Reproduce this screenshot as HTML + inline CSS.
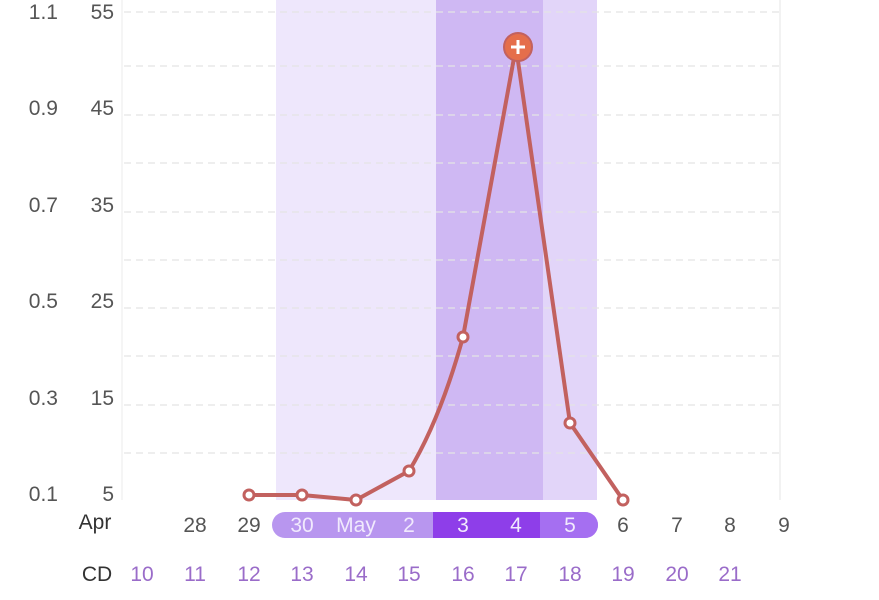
<!DOCTYPE html><html><head><style>body{margin:0;background:#fff}svg{display:block}text{font-family:"Liberation Sans",sans-serif}</style></head><body>
<svg width="879" height="600" viewBox="0 0 879 600">
<rect x="276" y="0" width="160" height="500" fill="#eee7fc"/>
<rect x="436" y="0" width="107" height="500" fill="#cfb8f3"/>
<rect x="543" y="0" width="54" height="500" fill="#e2d5f9"/>
<g stroke="#e4e4e4" stroke-width="1.2" stroke-dasharray="7,5">
<line x1="124" y1="12" x2="780" y2="12"/><line x1="124" y1="66" x2="780" y2="66"/><line x1="124" y1="115" x2="780" y2="115"/><line x1="124" y1="163" x2="780" y2="163"/><line x1="124" y1="212" x2="780" y2="212"/><line x1="124" y1="260" x2="780" y2="260"/><line x1="124" y1="308" x2="780" y2="308"/><line x1="124" y1="356" x2="780" y2="356"/><line x1="124" y1="405" x2="780" y2="405"/><line x1="124" y1="453" x2="780" y2="453"/>
</g>
<line x1="122" y1="0" x2="122" y2="500" stroke="#f2f2f2" stroke-width="1.5"/>
<line x1="780" y1="0" x2="780" y2="500" stroke="#eee" stroke-width="1.5"/>
<g font-size="21" fill="#555" text-anchor="end">
<text x="58" y="19">1.1</text><text x="58" y="115">0.9</text><text x="58" y="212">0.7</text><text x="58" y="308">0.5</text><text x="58" y="405">0.3</text><text x="58" y="501">0.1</text>
<text x="114" y="19">55</text><text x="114" y="115">45</text><text x="114" y="212">35</text><text x="114" y="308">25</text><text x="114" y="405">15</text><text x="114" y="501">5</text>
</g>
<rect x="272" y="512" width="326" height="26" rx="13" fill="#b896ef"/>
<rect x="433" y="512" width="107" height="26" fill="#8e3ee9"/>
<path d="M540 512 H585 A13 13 0 0 1 585 538 H540 Z" fill="#a56ff1"/>
<g font-size="21" text-anchor="middle">
<text x="95" y="529" fill="#333">Apr</text>
<g fill="#555"><text x="195" y="532">28</text><text x="249" y="532">29</text><text x="623" y="532">6</text><text x="677" y="532">7</text><text x="730" y="532">8</text><text x="784" y="532">9</text></g>
<g fill="#f1eafd"><text x="302" y="532">30</text><text x="356" y="532">May</text><text x="409" y="532">2</text><text x="463" y="532">3</text><text x="516" y="532">4</text><text x="570" y="532">5</text></g>
<text x="97" y="581" fill="#333">CD</text>
<g fill="#9a6cc9"><text x="142" y="581">10</text><text x="195" y="581">11</text><text x="249" y="581">12</text><text x="302" y="581">13</text><text x="356" y="581">14</text><text x="409" y="581">15</text><text x="463" y="581">16</text><text x="516" y="581">17</text><text x="570" y="581">18</text><text x="623" y="581">19</text><text x="677" y="581">20</text><text x="730" y="581">21</text></g>
</g>
<path d="M249 495 L302 495 L356 500 L409 471 Q440 420 463 337 L516 47 L570 423 L623 500" fill="none" stroke="#c2615f" stroke-width="4" stroke-linejoin="round"/>
<g fill="#fff" stroke="#c2615f" stroke-width="3">
<circle cx="249" cy="495" r="5"/><circle cx="302" cy="495" r="5"/><circle cx="356" cy="500" r="5"/><circle cx="409" cy="471" r="5"/><circle cx="463" cy="337" r="5"/><circle cx="570" cy="423" r="5"/><circle cx="623" cy="500" r="5"/>
</g>
<circle cx="518" cy="47" r="14" fill="#e56e4b" stroke="#c2615f" stroke-width="2"/>
<path d="M518 40 V54 M511 47 H525" stroke="#fff" stroke-width="3"/>
</svg>
</body></html>
